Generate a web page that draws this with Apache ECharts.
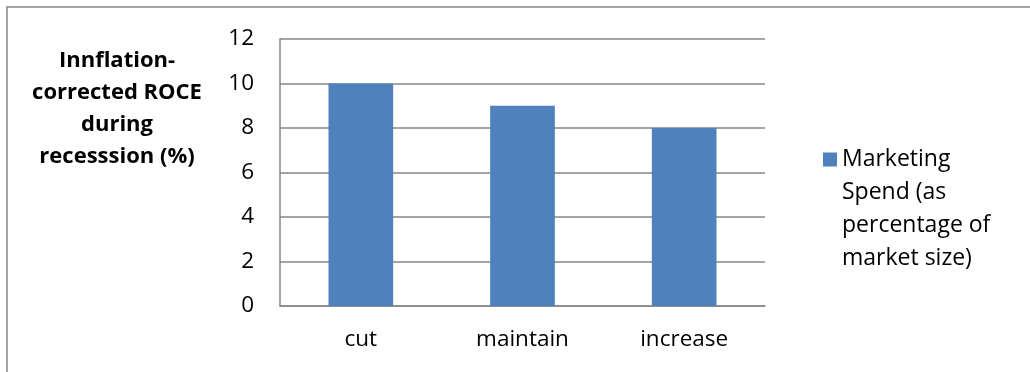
<!DOCTYPE html>
<html>
<head>
<meta charset="utf-8">
<script src="https://cdn.jsdelivr.net/npm/echarts@6/dist/echarts.min.js"></script>
<style>
  html, body { margin: 0; padding: 0; background: #fff; }
  #chart { width: 1030px; height: 372px; }
</style>
</head>
<body>
<div id="chart"></div>
<script>
// ROCE by marketing-spend strategy during a recession
const categories = ['cut', 'maintain', 'increase'];
const roceValues = [10, 9, 8];
const seriesName = 'Marketing\nSpend (as\npercentage of\nmarket size)';
const yAxisTitle = 'Innflation-\ncorrected ROCE\nduring\nrecesssion (%)';
const yMin = 0, yMax = 12, yStep = 2;

const FONT = '"Open Sans", "Noto Sans", sans-serif';
const GRAY = '#868686';

const chart = echarts.init(document.getElementById('chart'), null, { renderer: 'canvas' });
chart.setOption({
  animation: false,
  backgroundColor: '#fff',
  textStyle: { fontFamily: FONT },
  graphic: [{
    // frame around the chart area
    type: 'rect',
    shape: { x: 7, y: 7, width: 1100, height: 500 },
    style: { fill: 'none', stroke: GRAY, lineWidth: 1.5 },
    silent: true,
    z: -10
  }],
  title: {
    text: yAxisTitle,
    left: 112,
    top: 40,
    textAlign: 'center',
    textStyle: {
      fontFamily: FONT, fontSize: 22, fontWeight: 'bold',
      color: '#000', lineHeight: 32
    }
  },
  legend: {
    left: 818,
    top: 39,
    orient: 'vertical',
    icon: 'rect',
    itemWidth: 14,
    itemHeight: 14,
    itemGap: 0,
    // leading blank lines keep the square beside the first line
    formatter: name => '\n\n\n' + name,
    textStyle: { fontFamily: FONT, fontSize: 23, color: '#000', lineHeight: 33 },
    selectedMode: false
  },
  grid: { left: 280, right: 265, top: 39, bottom: 66, containLabel: false },
  xAxis: {
    type: 'category',
    data: categories,
    axisLine: { show: true, lineStyle: { color: GRAY, width: 1.5 } },
    axisTick: { show: false },
    axisLabel: { color: '#000', fontSize: 22.5, fontFamily: FONT, margin: 22 }
  },
  yAxis: {
    type: 'value',
    min: yMin,
    max: yMax,
    interval: yStep,
    axisLine: { show: true, lineStyle: { color: GRAY, width: 1.5 } },
    axisTick: { show: false },
    axisLabel: { color: '#000', fontSize: 22.5, fontFamily: FONT, margin: 26 },
    splitLine: { show: true, lineStyle: { color: GRAY, width: 1.5 } }
  },
  series: [{
    name: seriesName,
    type: 'bar',
    data: roceValues,
    barWidth: '40%',
    itemStyle: { color: '#4F81BD' }
  }]
});
</script>
</body>
</html>
